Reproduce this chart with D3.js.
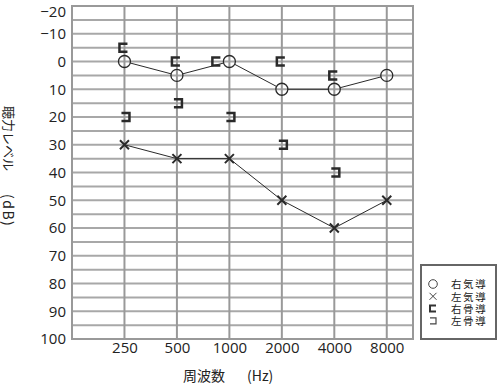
<!DOCTYPE html>
<html><head><meta charset="utf-8">
<script src="https://cdn.jsdelivr.net/npm/d3@7"></script>
<style>
body{margin:0;background:#fff;}
svg{display:block;}
text{font-family:"Open Sans","Noto Sans CJK JP",sans-serif;fill:#222;}
.jp{font-family:"Noto Sans CJK JP",sans-serif;}
</style></head>
<body>
<svg id="chart" width="500" height="385"></svg>
<script>
// ---- data ----
const freqs = [250, 500, 1000, 2000, 4000, 8000];
const freqLabels = ["250", "500", "1000", "2000", "4000", "8000"];
const rightAir = [0, 5, 0, 10, 10, 5];          // ○
const leftAir = [30, 35, 35, 50, 60, 50];       // ×
const rightBoneFreqs = [250, 500, 1000, 2000, 4000];
const rightBone = [-5, 0, 0, 0, 5];             // ⊏
const leftBoneFreqs = [250, 500, 1000, 2000, 4000];
const leftBone = [20, 15, 20, 30, 40];          // コ
const dbTicks = [-20, -10, 0, 10, 20, 30, 40, 50, 60, 70, 80, 90, 100];
const gridDb = d3.range(-20, 101, 5);
const legendLabels = ["右気導", "左気導", "右骨導", "左骨導"];
const yTitle = "聴力レベル";
const yUnit = "(dB)";
const xTitle = "周波数";
const xUnit = "(Hz)";

const svg = d3.select("#chart");
const L = 72, R = 413, T = 6, B = 339;
const x = d3.scaleLog().base(2).domain([125, 8000 * Math.SQRT2]).range([L, R]);
const y = d3.scaleLinear().domain([-20, 100]).range([T, B]);

// grid
const g = svg.append("g");
g.selectAll("line.h").data(gridDb).join("line")
  .attr("x1", L).attr("x2", R).attr("y1", d => y(d)).attr("y2", d => y(d))
  .attr("stroke", "#a8a8a8").attr("stroke-width", 2);
g.selectAll("line.v").data(freqs).join("line")
  .attr("x1", d => x(d)).attr("x2", d => x(d)).attr("y1", T).attr("y2", B)
  .attr("stroke", "#999").attr("stroke-width", 2);
g.append("rect").attr("x", L).attr("y", T).attr("width", R - L).attr("height", B - T)
  .attr("fill", "none").attr("stroke", "#999").attr("stroke-width", 2);

// axes
const yAxis = d3.axisLeft(y).tickValues(dbTicks).tickSize(0).tickPadding(6);
svg.append("g").attr("transform", `translate(${L},0)`).call(yAxis)
  .call(a => a.select(".domain").remove())
  .selectAll("text").attr("font-size", 15).attr("font-family", "Open Sans").attr("fill", "#222")
  .attr("dy", d => d === dbTicks[0] ? "0.7em" : "0.32em");
const xAxis = d3.axisBottom(x).tickValues(freqs).tickFormat((d, i) => freqLabels[i]).tickSize(0).tickPadding(3);
svg.append("g").attr("transform", `translate(0,${B})`).call(xAxis)
  .call(a => a.select(".domain").remove())
  .selectAll("text").attr("font-size", 15).attr("font-family", "Open Sans").attr("fill", "#222");

// titles
svg.append("text").attr("class", "jp").attr("x", 183).attr("y", 381)
  .attr("font-size", 14).text(xTitle);
svg.append("text").attr("class", "jp").attr("x", 247).attr("y", 381)
  .attr("font-size", 14).text(xUnit);
svg.append("text").attr("class", "jp")
  .attr("transform", `translate(4,106) rotate(90)`)
  .attr("font-size", 13).text(yTitle);
svg.append("text").attr("class", "jp")
  .attr("transform", `translate(3,194) rotate(90)`)
  .attr("font-size", 14).attr("letter-spacing", 1.5).text(yUnit);

// lines
const r = 6;
const ink = "#2a2a2a";
const ra = freqs.map((f, i) => [x(f), y(rightAir[i])]);
for (let i = 0; i < ra.length - 1; i++) {
  const [x1, y1] = ra[i], [x2, y2] = ra[i + 1];
  const dx = x2 - x1, dy = y2 - y1, len = Math.hypot(dx, dy);
  svg.append("line")
    .attr("x1", x1 + dx / len * r).attr("y1", y1 + dy / len * r)
    .attr("x2", x2 - dx / len * r).attr("y2", y2 - dy / len * r)
    .attr("stroke", ink).attr("stroke-width", 1);
}
const la = freqs.map((f, i) => [x(f), y(leftAir[i])]);
svg.append("path").attr("d", d3.line()(la)).attr("fill", "none")
  .attr("stroke", ink).attr("stroke-width", 1);

// markers
svg.selectAll("circle.ra").data(ra).join("circle")
  .attr("cx", d => d[0]).attr("cy", d => d[1]).attr("r", r)
  .attr("fill", "none").attr("stroke", ink).attr("stroke-width", 1.3);
const s = 4.5;
svg.selectAll("path.la").data(la).join("path")
  .attr("d", d => `M${d[0]-s},${d[1]-s}L${d[0]+s},${d[1]+s}M${d[0]+s},${d[1]-s}L${d[0]-s},${d[1]+s}`)
  .attr("stroke", ink).attr("stroke-width", 2).attr("fill", "none");

const b = 4;
function openRight(cx, cy, h) { return `M${cx+h},${cy-h}H${cx-h}V${cy+h}H${cx+h}`; }
function openLeft(cx, cy, h) { return `M${cx-h},${cy-h}H${cx+h}V${cy+h}H${cx-h}`; }
rightBoneFreqs.forEach((f, i) => {
  const ai = freqs.indexOf(f);
  const clash = ai >= 0 && Math.abs(rightAir[ai] - rightBone[i]) < 3;
  const cx = x(f) - 1 - (clash ? 12 : 0), cy = y(rightBone[i]);
  svg.append("path").attr("d", openRight(cx, cy, b)).attr("fill", "none")
    .attr("stroke", ink).attr("stroke-width", 2.5);
});
leftBoneFreqs.forEach((f, i) => {
  const cx = x(f) + 1, cy = y(leftBone[i]);
  svg.append("path").attr("d", openLeft(cx, cy, b)).attr("fill", "none")
    .attr("stroke", ink).attr("stroke-width", 2.5);
});

// legend
const lg = svg.append("g");
lg.append("rect").attr("x", 421).attr("y", 265).attr("width", 75).attr("height", 74)
  .attr("fill", "#fff").attr("stroke", "#666").attr("stroke-width", 2);
const rowY = [284, 296.3, 308.6, 320.9];
const sx = 433;
lg.append("circle").attr("cx", sx).attr("cy", rowY[0]).attr("r", 4.3)
  .attr("fill", "none").attr("stroke", "#444").attr("stroke-width", 1);
lg.append("path").attr("d", `M${sx-3.5},${rowY[1]-3.5}L${sx+3.5},${rowY[1]+3.5}M${sx+3.5},${rowY[1]-3.5}L${sx-3.5},${rowY[1]+3.5}`)
  .attr("stroke", "#444").attr("stroke-width", 1);
lg.append("path").attr("d", openRight(sx, rowY[2], 3)).attr("fill", "none")
  .attr("stroke", "#333").attr("stroke-width", 2);
lg.append("path").attr("d", openLeft(sx, rowY[3], 3)).attr("fill", "none")
  .attr("stroke", "#444").attr("stroke-width", 1.2);
const lt = lg.append("text").attr("class", "jp")
  .attr("font-size", 10.5).attr("letter-spacing", 1.6).attr("fill", "#333");
lt.selectAll("tspan").data(legendLabels).join("tspan")
  .attr("x", 451).attr("y", (d, i) => rowY[i] + 4.2).text(d => d);
</script>
</body></html>
